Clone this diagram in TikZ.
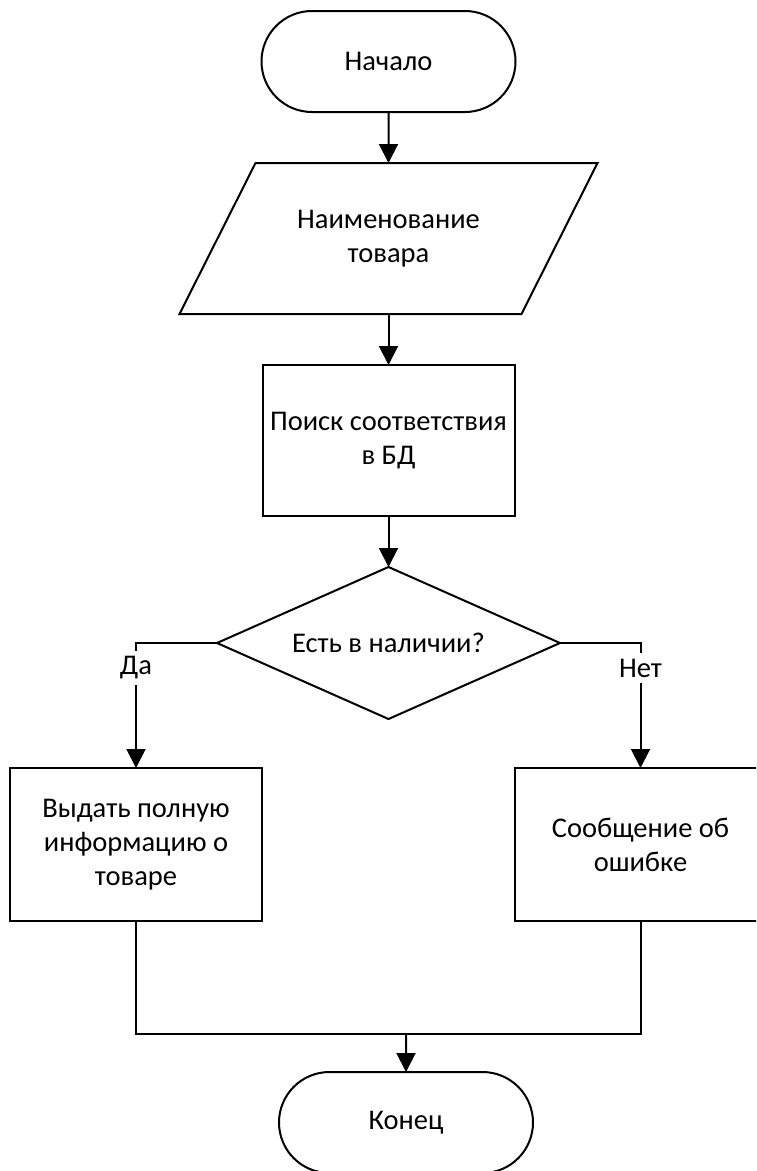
\documentclass[tikz,border=0pt]{standalone}
\usepackage{fontspec}
\setmainfont{Carlito}
\usetikzlibrary{arrows.meta,shapes.misc,calc}

\tikzset{
  base/.style={font=\fontsize{28.5}{34}\selectfont, align=center, inner sep=0pt, outer sep=0pt},
  terminal/.style={base, draw, line width=2pt, rounded rectangle, minimum width=254, minimum height=101},
  process/.style={base, draw, line width=2pt, rectangle, minimum width=252},
  frame/.style={base, minimum width=#1},
  flow/.style={line width=2pt},
  arrow/.style={flow, -{Triangle[length=19pt,width=19pt]}},
  answer/.style={base, fill=white, inner ysep=6pt, inner xsep=2pt}
}

\begin{document}
\begin{tikzpicture}[x=1pt,y=-1pt]
  \clip (0,0) rectangle (756,1171);
  \fill[white] (0,0) rectangle (756,1171);

  % main column
  \node[terminal] (start) at (388.5,61.5) {Начало};
  \node[frame=418, minimum height=151] (input) at (388.5,238.5) {Наименование\\товара};
  \draw[flow] ($(input.north west)+(76,0)$) -- (input.north east)
              -- ($(input.south east)-(76,0)$) -- (input.south west) -- cycle;
  \node[process, minimum height=151] (search) at (388.5,440.5) {Поиск соответствия\\в БД};
  \node[frame=343, minimum height=152] (check) at (388.5,643) {Есть в наличии?};
  \draw[flow] (check.north) -- (check.east) -- (check.south) -- (check.west) -- cycle;

  % branches
  \node[process, minimum height=153] (info) at (136,844.5) {Выдать полную\\информацию о\\товаре};
  \node[process, minimum height=153] (error) at (640.5,844.5) {Сообщение об\\ошибке};

  \node[terminal] (end) at (406,1122.5) {Конец};
  \coordinate (join) at (406,1034);

  % connectors
  \draw[arrow] (start) -- (input);
  \draw[arrow] (input) -- (search);
  \draw[arrow] (search) -- (check);
  \draw[arrow] (check.west) -| (info.north) node[answer, pos=0.6] {Да};
  \draw[arrow] (check.east) -| (error.north) node[answer, pos=0.6] {Нет};
  \draw[flow] (info.south) |- (join) -| (error.south);
  \draw[arrow] (join) -- (end);
\end{tikzpicture}
\end{document}
